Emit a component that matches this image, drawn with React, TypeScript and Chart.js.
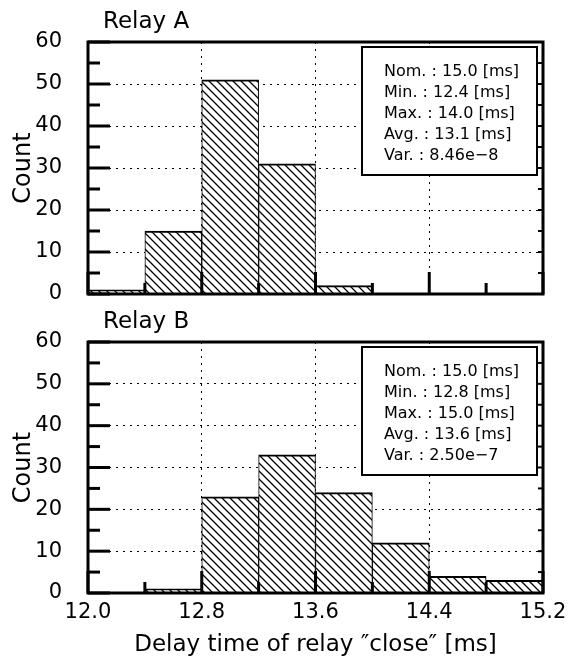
import React, { useEffect, useRef } from 'react';
import { Chart, registerables } from 'chart.js';

Chart.register(...registerables);

const FONT = 'DejaVu Sans';

// ---- data ----
const binCentersA = [12.2, 12.6, 13.0, 13.4, 13.8];
const countsA = [1, 15, 51, 31, 2];
const binCentersB = [12.6, 13.0, 13.4, 13.8, 14.2, 14.6, 15.0];
const countsB = [1, 23, 33, 24, 12, 4, 3];

const statsA = ['Nom. : 15.0 [ms]', 'Min. : 12.4 [ms]', 'Max. : 14.0 [ms]', 'Avg. : 13.1 [ms]', 'Var. : 8.46e\u22128'];
const statsB = ['Nom. : 15.0 [ms]', 'Min. : 12.8 [ms]', 'Max. : 15.0 [ms]', 'Avg. : 13.6 [ms]', 'Var. : 2.50e\u22127'];

const xMajorTicks = [12.0, 12.8, 13.6, 14.4, 15.2];
const xAllTicks = [12.0, 12.4, 12.8, 13.2, 13.6, 14.0, 14.4, 14.8, 15.2];
const yMajorTicks = [0, 10, 20, 30, 40, 50, 60];
const yAllTicks = [0, 5, 10, 15, 20, 25, 30, 35, 40, 45, 50, 55, 60];

const xTitle = 'Delay time of relay \u2033close\u2033 [ms]';
const yTitle = 'Count';

function makeHatch(): CanvasPattern | string {
  const s = 8;
  const c = document.createElement('canvas');
  c.width = s;
  c.height = s;
  const g = c.getContext('2d');
  if (!g) return '#fff';
  g.fillStyle = '#fff';
  g.fillRect(0, 0, s, s);
  g.strokeStyle = '#000';
  g.lineWidth = 1.3;
  g.beginPath();
  for (const k of [-s, 0, s]) {
    g.moveTo(k - 1, -1);
    g.lineTo(k + s + 1, s + 1);
  }
  g.stroke();
  return g.createPattern(c, 'repeat') || '#fff';
}

function buildConfig(centers: number[], counts: number[], title: string, stats: string[], showX: boolean, xHeight: number): any {
  const decor = {
    id: 'decor',
    afterDraw(chart: any) {
      const { ctx, chartArea } = chart;
      const { left, top, right, bottom } = chartArea;
      const xs = chart.scales.x;
      const ys = chart.scales.y;
      ctx.save();
      ctx.strokeStyle = '#000';
      ctx.lineCap = 'butt';
      for (const v of yAllTicks) {
        const py = ys.getPixelForValue(v);
        const len = v % 10 === 0 ? 22 : 12;
        ctx.lineWidth = 3;
        ctx.beginPath();
        ctx.moveTo(left, py);
        ctx.lineTo(left + len, py);
        ctx.stroke();
        ctx.lineWidth = 2;
        ctx.beginPath();
        ctx.moveTo(right, py);
        ctx.lineTo(right - 5, py);
        ctx.stroke();
      }
      for (const v of xAllTicks) {
        const px = xs.getPixelForValue(v);
        const len = xMajorTicks.includes(v) ? 22 : 11;
        ctx.lineWidth = 3;
        ctx.beginPath();
        ctx.moveTo(px, bottom);
        ctx.lineTo(px, bottom - len);
        ctx.stroke();
      }
      ctx.lineWidth = 3;
      ctx.strokeRect(left, top, right - left, bottom - top);
      const bw = 175;
      const bh = 128;
      const bx = right - 6 - bw;
      const by = top + 5;
      ctx.fillStyle = '#fff';
      ctx.fillRect(bx, by, bw, bh);
      ctx.lineWidth = 2;
      ctx.strokeRect(bx, by, bw, bh);
      ctx.fillStyle = '#000';
      ctx.font = `16px "${FONT}"`;
      ctx.textAlign = 'left';
      ctx.textBaseline = 'middle';
      stats.forEach((s, i) => {
        ctx.fillText(s, bx + 22, by + 25 + i * 21);
      });
      ctx.font = `23px "${FONT}"`;
      ctx.fillText(title, left + 15, 22);
      ctx.restore();
    },
  };

  return {
    type: 'bar',
    data: {
      datasets: [
        {
          data: centers.map((c, i) => ({ x: c, y: counts[i] })),
          backgroundColor: makeHatch(),
          borderColor: '#000',
          borderWidth: { top: 2, left: 1, right: 1, bottom: 0 },
          barPercentage: 1,
          categoryPercentage: 1,
        },
      ],
    },
    options: {
      responsive: false,
      animation: false,
      events: [],
      layout: { padding: { top: 42, right: 30, left: 0, bottom: 0 } },
      plugins: {
        legend: { display: false },
        tooltip: { enabled: false },
        title: { display: false },
      },
      scales: {
        x: {
          type: 'linear',
          min: 12,
          max: 15.2,
          offset: false,
          afterBuildTicks: (s: any) => {
            s.ticks = xMajorTicks.map((v) => ({ value: v }));
          },
          ticks: {
            display: showX,
            autoSkip: false,
            maxRotation: 0,
            padding: 7,
            color: '#000',
            font: { family: FONT, size: 21 },
            callback: (v: any) => Number(v).toFixed(1),
          },
          grid: { color: '#000', lineWidth: 1, drawTicks: false, offset: false },
          border: { display: false, dash: [2, 5] },
          title: {
            display: showX,
            text: xTitle,
            color: '#000',
            font: { family: FONT, size: 23 },
            padding: { top: 0, bottom: 1 },
          },
          afterFit: (s: any) => {
            s.height = xHeight;
            s.paddingLeft = 0;
            s.paddingRight = 0;
          },
        },
        y: {
          type: 'linear',
          min: 0,
          max: 60,
          afterBuildTicks: (s: any) => {
            s.ticks = yMajorTicks.map((v) => ({ value: v }));
          },
          ticks: {
            padding: 26,
            color: '#000',
            font: { family: FONT, size: 21 },
            callback: (v: any) => String(v),
          },
          grid: { color: '#000', lineWidth: 1, drawTicks: false, offset: false },
          border: { display: false, dash: [2, 5] },
          title: {
            display: true,
            text: yTitle,
            color: '#000',
            font: { family: FONT, size: 24 },
            padding: { top: 9, bottom: 0 },
          },
          afterFit: (s: any) => {
            s.width = 88;
            s.paddingTop = 0;
            s.paddingBottom = 0;
          },
        },
      },
    },
    plugins: [decor],
  };
}

export default function App() {
  const refA = useRef<HTMLCanvasElement>(null);
  const refB = useRef<HTMLCanvasElement>(null);

  useEffect(() => {
    if (!refA.current || !refB.current) return;
    const a = new Chart(refA.current, buildConfig(binCentersA, countsA, 'Relay A', statsA, false, 26));
    const b = new Chart(refB.current, buildConfig(binCentersB, countsB, 'Relay B', statsB, true, 67));
    return () => {
      a.destroy();
      b.destroy();
    };
  }, []);

  return (
    <div style={{ position: 'absolute', left: 0, top: 0, width: 573, height: 660, background: '#fff' }}>
      <canvas ref={refA} width={573} height={320} style={{ position: 'absolute', left: 0, top: 0 }} />
      <canvas ref={refB} width={573} height={360} style={{ position: 'absolute', left: 0, top: 300 }} />
    </div>
  );
}
